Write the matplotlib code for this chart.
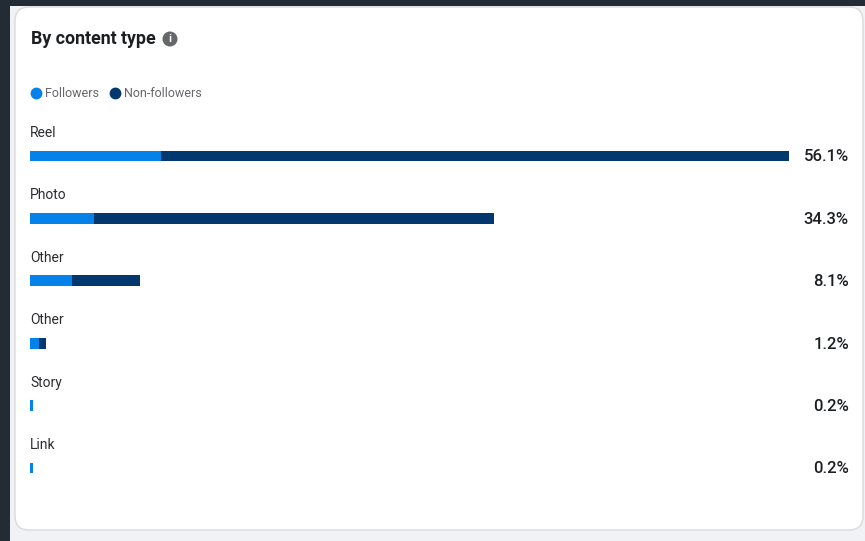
import matplotlib
matplotlib.use("Agg")
import matplotlib.pyplot as plt
from matplotlib.lines import Line2D
from matplotlib.patches import FancyBboxPatch, Rectangle, Circle

# values
categories = ["Reel", "Photo", "Other", "Other", "Story", "Link"]
followers = [9.7, 4.7, 3.1, 0.65, 0.2, 0.2]
non_followers = [46.4, 29.6, 5.0, 0.55, 0.0, 0.0]
value_labels = ["56.1%", "34.3%", "8.1%", "1.2%", "0.2%", "0.2%"]

W, H = 865, 541
plt.rcParams["font.family"] = ["Roboto", "DejaVu Sans"]

fig = plt.figure(figsize=(W / 100, H / 100), dpi=100)
fig.patch.set_facecolor("#f0f2f5")

# page background + card, in pixel coordinates
bg = fig.add_axes([0, 0, 1, 1])
bg.set_xlim(0, W)
bg.set_ylim(H, 0)
bg.axis("off")
bg.add_patch(Rectangle((0, 0), 10, H, color="#232b34", lw=0))
bg.add_patch(Rectangle((0, 0), W, 6, color="#232b34", lw=0))
bg.add_patch(FancyBboxPatch((15 + 14, 7 + 14), 848 - 28, 523 - 28,
                            boxstyle="round,pad=14,rounding_size=14",
                            fc="white", ec="#d9dadd", lw=1))
bg.text(31, 39.5, "By content type", fontsize=12.8, fontweight="bold", color="#1c1e21",
        va="center", ha="left")
bg.add_patch(Circle((170, 39), 7.5, color="#65676b", lw=0))
bg.text(170, 39.5, "i", fontsize=8, fontweight="bold", color="white", va="center", ha="center")

# bars
ax = fig.add_axes([30 / W, 1 - 499.2 / H, 759 / W, 374.4 / H])
ax.patch.set_alpha(0)
ax.set_xlim(0, 56.1)
ax.set_ylim(5.5, -0.5)
ax.axis("off")
ypos = list(range(len(categories)))
ax.barh(ypos, followers, height=0.17, color="#0482ea", label="Followers")
ax.barh(ypos, non_followers, left=followers, height=0.17, color="#03386f", label="Non-followers")

for i in ypos:
    ax.text(0, i - 0.37, categories[i], fontsize=10, color="#2b2d31", va="center", ha="left",
            clip_on=False)
    ax.annotate(value_labels[i], xy=(1, i), xycoords=ax.get_yaxis_transform(),
                xytext=(60 * 0.72, -0.7), textcoords="offset points",
                fontsize=12, fontweight="medium", color="#1c1e21", va="center", ha="right",
                annotation_clip=False)

handles = [
    Line2D([], [], marker="o", ls="", ms=7.5, color="#0482ea"),
    Line2D([], [], marker="o", ls="", ms=7.5, color="#03386f"),
]
fig.legend(handles, ["Followers", "Non-followers"], loc="center left",
           bbox_to_anchor=(27 / W, 1 - 93.5 / H), frameon=False, ncol=2, fontsize=9,
           labelcolor="#65676b", handletextpad=0.0, columnspacing=0.64, handlelength=1.4,
           borderpad=0, borderaxespad=0)

fig.savefig("out.png", dpi=100, facecolor=fig.get_facecolor())
